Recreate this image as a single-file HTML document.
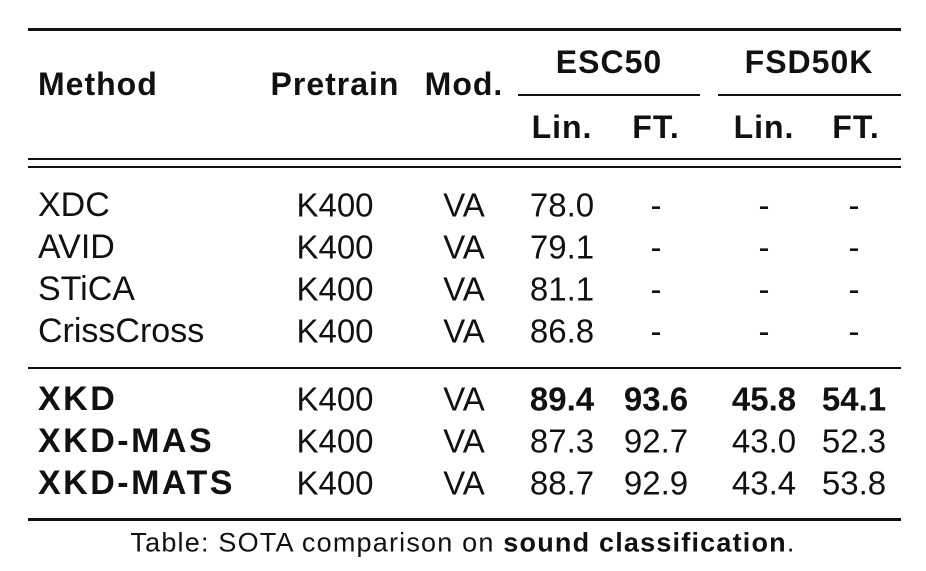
<!DOCTYPE html>
<html><head><meta charset="utf-8">
<style>
html,body{margin:0;padding:0;background:#fff;}
#t{position:relative;width:926px;height:571px;font-family:"Liberation Sans","DejaVu Sans",sans-serif;color:#111;}
.r{position:absolute;background:#111;left:28px;width:873px;}
.c{position:absolute;font-size:33px;line-height:1;white-space:nowrap;transform:translate(-50%,-50%);}
.l{position:absolute;font-size:34px;line-height:1;white-space:nowrap;transform:translateY(-50%);}
.b{font-weight:bold;}
.l.b{letter-spacing:2.5px;}
.h{letter-spacing:1px;}
</style></head><body>
<div id="t">
<div class="r" style="top:28px;height:3px"></div>
<div class="l b" style="left:38px;top:84px;font-size:32px;letter-spacing:1px">Method</div>
<div class="c b h" style="left:335px;top:84px;font-size:32px">Pretrain</div>
<div class="c b h" style="left:464px;top:84px;font-size:32px">Mod.</div>
<div class="c b h" style="left:609px;top:62px;font-size:32px">ESC50</div>
<div class="c b h" style="left:809px;top:62px;font-size:32px">FSD50K</div>
<div style="position:absolute;left:518px;width:182px;top:94px;height:1.5px;background:#111"></div>
<div style="position:absolute;left:718px;width:183px;top:94px;height:1.5px;background:#111"></div>
<div class="c b h" style="left:562px;top:127px;font-size:32px">Lin.</div>
<div class="c b h" style="left:656px;top:127px;font-size:32px">FT.</div>
<div class="c b h" style="left:764px;top:127px;font-size:32px">Lin.</div>
<div class="c b h" style="left:856px;top:127px;font-size:32px">FT.</div>
<div class="r" style="top:158px;height:2px"></div>
<div class="r" style="top:166px;height:2px"></div>
<div class="r" style="top:367px;height:2px"></div>
<div class="r" style="top:518px;height:3px"></div>
<div class="c" style="left:463px;top:543px;font-size:27px;letter-spacing:1.2px">Table: SOTA comparison on <b>sound classification</b>.</div>
</div>
<script>
const methods=["XDC","AVID","STiCA","CrissCross","XKD","XKD-MAS","XKD-MATS"];
const escLin=["78.0","79.1","81.1","86.8","89.4","87.3","88.7"];
const escFt=["-","-","-","-","93.6","92.7","92.9"];
const fsdLin=["-","-","-","-","45.8","43.0","43.4"];
const fsdFt=["-","-","-","-","54.1","52.3","53.8"];
const t=document.getElementById('t');
const ys=[205,247,289,331,399,441,483];
function cell(txt,x,y,cls,bold){
  const d=document.createElement('div');
  d.className=cls+(bold?' b':'');
  d.style.left=x+'px';d.style.top=y+'px';
  d.textContent=txt;
  
  
  t.appendChild(d);
}
methods.forEach((m,i)=>{
  const y=ys[i], ours=i>=4, best=i===4;
  cell(m,38,y,'l',ours);
  cell("K400",335,y,'c',false);
  cell("VA",464,y,'c',false);
  cell(escLin[i],562,y,'c',best);
  cell(escFt[i],656,y,'c',best);
  cell(fsdLin[i],764,y,'c',best);
  cell(fsdFt[i],854,y,'c',best);
});
</script>
</body></html>
